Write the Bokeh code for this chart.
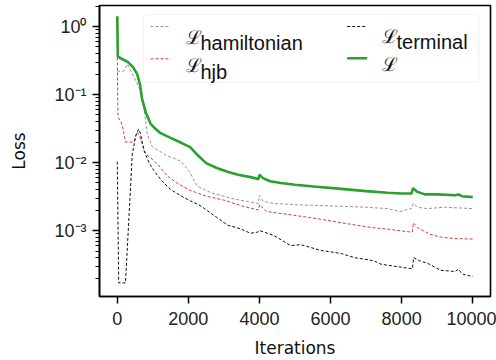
from bokeh.plotting import figure
from bokeh.models import Range1d, FixedTicker, Label, Arrow, BoxAnnotation
from bokeh.embed import file_html
from bokeh.resources import INLINE

# ---------------- data ----------------
it_total = [0, 15, 150, 300, 450, 560, 640, 700, 800, 940, 1080, 1220, 1500, 1800, 2050, 2250,
            2500, 2800, 3100, 3400, 3750, 3970, 4000, 4100, 4300, 4600, 5000, 5600, 6300, 7000,
            7600, 8000, 8280, 8320, 8450, 8650, 9000, 9500, 9600, 9700, 10000]
loss_total = [1.42, 0.36, 0.33, 0.30, 0.25, 0.20, 0.14, 0.085, 0.055, 0.037, 0.031, 0.027, 0.023,
              0.0195, 0.0168, 0.013, 0.0098, 0.0083, 0.0073, 0.0066, 0.0061, 0.0057, 0.0066, 0.0059,
              0.0053, 0.0050, 0.0047, 0.0044, 0.0041, 0.0038, 0.0036, 0.0035, 0.0035, 0.0042, 0.0037,
              0.0034, 0.0034, 0.0033, 0.0034, 0.0032, 0.0031]

it_ham = [0, 180, 280, 470, 610, 750, 845, 985, 1400, 1780, 2020, 2250, 2630, 3290, 3970, 4000,
          4100, 4400, 5000, 6000, 7000, 7600, 7950, 8100, 8280, 8330, 8450, 8700, 9200, 10000]
loss_ham = [0.22, 0.22, 0.28, 0.18, 0.128, 0.065, 0.026, 0.017, 0.0126, 0.0105, 0.0075, 0.0045,
            0.0036, 0.0029, 0.0025, 0.0033, 0.0027, 0.0025, 0.0024, 0.0023, 0.0022, 0.0021, 0.0019,
            0.0020, 0.0021, 0.0025, 0.0022, 0.0021, 0.0022, 0.0021]

it_hjb = [0, 20, 100, 150, 230, 470, 560, 620, 700, 800, 1000, 1130, 1400, 1700, 2050, 2500,
          3000, 3500, 3970, 4000, 4200, 4900, 5600, 6300, 7200, 7600, 8250, 8300, 8330, 8450,
          8800, 9100, 9500, 10000]
loss_hjb = [0.35, 0.047, 0.040, 0.034, 0.020, 0.020, 0.028, 0.025, 0.019, 0.0134, 0.011, 0.0095,
            0.0064, 0.0049, 0.0039, 0.0032, 0.0028, 0.0023, 0.0020, 0.0024, 0.0019, 0.0017, 0.0015,
            0.0013, 0.0011, 0.00105, 0.00095, 0.00095, 0.0013, 0.0011, 0.00088, 0.0008, 0.00076,
            0.00075]

it_term = [0, 40, 230, 330, 420, 520, 600, 650, 750, 900, 1030, 1250, 1500, 1900, 2350, 2700,
           3100, 3470, 3750, 3950, 4000, 4400, 4880, 5160, 5730, 6300, 6670, 7210, 7420, 8170,
           8300, 8340, 8500, 8730, 9100, 9500, 9600, 9700, 10000]
loss_term = [0.0103, 0.00017, 0.00017, 0.0016, 0.013, 0.025, 0.031, 0.027, 0.015, 0.0098, 0.0076,
             0.0054, 0.0040, 0.0030, 0.0023, 0.0017, 0.0012, 0.00106, 0.00091, 0.00095, 0.0010,
             0.00085, 0.0006, 0.00062, 0.00051, 0.00046, 0.0004, 0.00036, 0.00032, 0.00028,
             0.000274, 0.0004, 0.00036, 0.00033, 0.00026, 0.00025, 0.00027, 0.00023, 0.00021]

x_ticks = [0, 2000, 4000, 6000, 8000, 10000]
x_tick_labels = ["0", "2000", "4000", "6000", "8000", "10000"]
y_ticks = [0.001, 0.01, 0.1, 1.0]
y_tick_labels = ["10\u207b\u00b3", "10\u207b\u00b2", "10\u207b\u00b9", "10\u2070"]

legend_main = ["\u2112", "\u2112", "\u2112", "\u2112"]
legend_sub = ["hamiltonian", "hjb", "terminal", ""]

colors = {"ham": "#959595", "hjb": "#d13a3a", "term": "#111111", "total": "#2ca02c"}

TICKFONT = "Liberation Sans"
LABELFONT = "DejaVu Sans"

# ---------------- figure ----------------
W, H = 496, 360
p = figure(width=W, height=H, output_backend="svg", toolbar_location=None,
           y_axis_type="log",
           x_range=Range1d(-500, 10500), y_range=Range1d(10 ** -3.97, 10 ** 0.309),
           min_border_left=99, min_border_right=6, min_border_top=5, min_border_bottom=64)
p.grid.visible = False
p.outline_line_color = "black"
p.outline_line_width = 1.6
p.background_fill_color = "white"
p.border_fill_color = "white"

dash = "3 2"
p.line(it_ham, loss_ham, line_color=colors["ham"], line_width=1, line_dash=dash)
p.line(it_hjb, loss_hjb, line_color=colors["hjb"], line_width=1, line_dash=dash)
p.line(it_term, loss_term, line_color=colors["term"], line_width=1, line_dash=dash)
p.line(it_total, loss_total, line_color=colors["total"], line_width=2.6)

# axes
minor = [m * 10.0 ** k for k in range(-4, 1) for m in range(2, 10)]
p.yaxis.ticker = FixedTicker(ticks=y_ticks, minor_ticks=minor)
p.yaxis.major_label_overrides = {v: s for v, s in zip(y_ticks, y_tick_labels)}
p.xaxis.ticker = FixedTicker(ticks=x_ticks)
p.xaxis.major_label_overrides = {v: s for v, s in zip(x_ticks, x_tick_labels)}

for ax in (p.xaxis[0], p.yaxis[0]):
    ax.axis_line_width = 1.6
    ax.major_tick_in = 0
    ax.major_tick_out = 7
    ax.minor_tick_in = 0
    ax.minor_tick_out = 4
    ax.major_tick_line_width = 1.5
    ax.minor_tick_line_width = 1.2
    ax.major_label_text_font = TICKFONT
    ax.major_label_text_font_size = "18px"
    ax.major_label_text_color = "#222222"
    ax.axis_label_text_font = LABELFONT
    ax.axis_label_text_font_size = "17px"
    ax.axis_label_text_font_style = "normal"
    ax.axis_label_text_color = "#111111"
p.xaxis.major_label_standoff = 8
p.yaxis.major_label_standoff = 6
p.xaxis.minor_tick_line_color = None
p.xaxis.axis_label = "Iterations"
p.yaxis.axis_label = "Loss"
p.xaxis.axis_label_standoff = 10
p.yaxis.axis_label_standoff = 22

# ---------------- legend (drawn with annotations, frame screen units) ----------------
FL, FB = 99, 296  # page coords of frame left / bottom


def sx(px):
    return px - FL


def sy(py):
    return FB - py


p.add_layout(BoxAnnotation(left=sx(142.7), right=sx(478.5), top=sy(14), bottom=sy(81.7),
                           left_units="screen", right_units="screen",
                           top_units="screen", bottom_units="screen",
                           fill_color="white", fill_alpha=0.8, line_color="#d8d8d8",
                           line_width=1.2, border_radius=4, level="overlay"))

entries = [
    (150, 169, 26, colors["ham"], 1, dash, 185, 36.5, 200, 42.3, 0),
    (150, 169, 58.3, colors["hjb"], 1, dash, 185, 65.0, 200, 71.3, 1),
    (346.7, 366.7, 26, colors["term"], 1, dash, 381.7, 36.0, 396, 41.7, 2),
    (346.7, 366.7, 57.7, colors["total"], 2.6, "solid", 381.7, 63.5, 396, 69.5, 3),
]
for x0, x1, yy, col, lw, ld, lx, ly, tx, ty, i in entries:
    p.add_layout(Arrow(start=None, end=None, x_start=sx(x0), y_start=sy(yy), x_end=sx(x1),
                       y_end=sy(yy), start_units="screen", end_units="screen",
                       line_color=col, line_width=lw, line_dash=ld, level="overlay"))
    p.add_layout(Label(x=sx(lx), y=sy(ly), x_units="screen", y_units="screen",
                       text=legend_main[i], text_font="serif", text_font_size="19px",
                       text_color="#111111", text_baseline="alphabetic", level="overlay"))
    if legend_sub[i]:
        p.add_layout(Label(x=sx(tx), y=sy(ty), x_units="screen", y_units="screen",
                           text=legend_sub[i], text_font=TICKFONT,
                           text_font_size="20px", text_color="#111111",
                           text_baseline="alphabetic", level="overlay"))

open("out.html", "w").write(file_html(p, INLINE))
